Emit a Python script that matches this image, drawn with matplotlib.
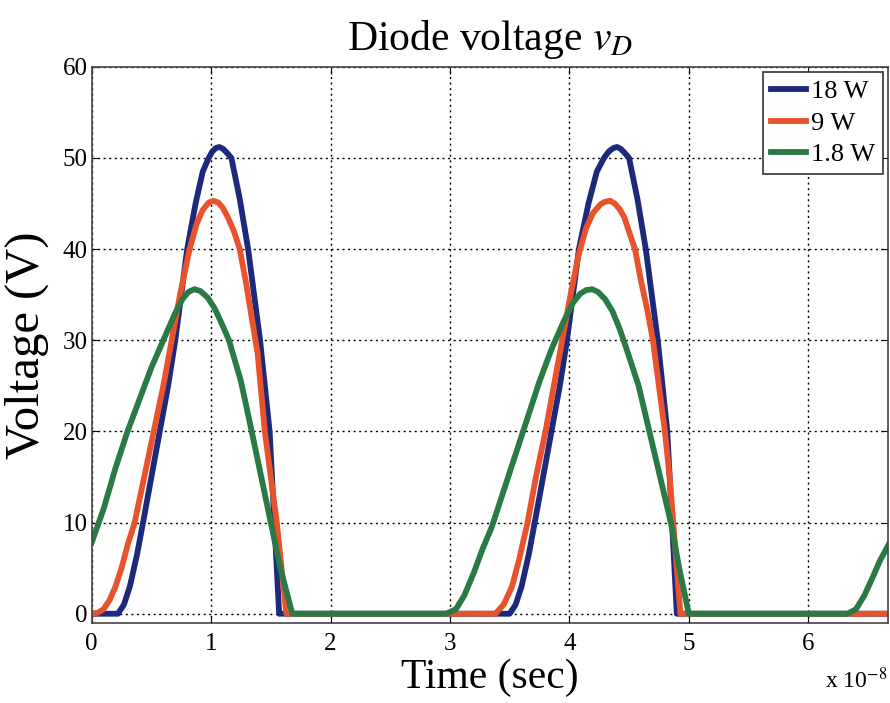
import matplotlib
matplotlib.use("Agg")
import matplotlib.pyplot as plt

plt.rcParams['font.family'] = 'Liberation Serif'
plt.rcParams['mathtext.fontset'] = 'stix'

# time in units of 1e-8 s, voltage in V
t_18 = [0, 0.22, 0.27, 0.32, 0.38, 0.43, 0.50, 0.57, 0.64, 0.70, 0.75, 0.80, 0.87, 0.93, 0.98,
        1.01, 1.04, 1.07, 1.10, 1.13, 1.17, 1.24, 1.31, 1.36, 1.41, 1.45, 1.49, 1.53, 1.57,
        3.50, 3.55, 3.60, 3.66, 3.71, 3.78, 3.85, 3.92, 3.98, 4.03, 4.08, 4.16, 4.23, 4.29,
        4.33, 4.37, 4.40, 4.43, 4.46, 4.50, 4.57, 4.64, 4.69, 4.74, 4.78, 4.82, 4.86, 4.90, 6.67]
v_18 = [0, 0, 1, 3, 6.5, 10, 15, 20, 25, 30, 35, 40, 45, 48.5, 50,
        50.7, 51.1, 51.2, 51, 50.6, 50, 45.5, 40, 35, 30, 25, 20, 10, 0,
        0, 1, 3, 6.5, 10, 15, 20, 25, 30, 35, 40, 45, 48.5, 50,
        50.7, 51.1, 51.2, 51, 50.6, 50, 45.5, 40, 35, 30, 25, 20, 10, 0, 0]

t_9 = [0, 0.05, 0.10, 0.15, 0.20, 0.25, 0.30, 0.36, 0.44, 0.52, 0.60, 0.67, 0.74, 0.82,
       0.88, 0.93, 0.98, 1.02, 1.06, 1.10, 1.14, 1.19, 1.24, 1.29, 1.34, 1.39, 1.45, 1.50,
       1.55, 1.59, 1.63,
       3.38, 3.45, 3.52, 3.58, 3.65, 3.72, 3.80, 3.87, 3.94, 4.01, 4.08, 4.14, 4.20, 4.26,
       4.30, 4.34, 4.38, 4.42, 4.46, 4.51, 4.55, 4.60, 4.65, 4.70, 4.75, 4.80, 4.84, 4.87,
       4.90, 4.93, 6.67]
v_9 = [0, 0.1, 0.5, 1.5, 3, 5, 7.5, 10, 15, 20, 25, 30, 35, 40,
       42.8, 44.3, 45.1, 45.3, 45.1, 44.5, 43.5, 42, 40, 36.5, 32.5, 28.5, 20, 15,
       10, 5, 0,
       0, 1, 3, 6, 10, 15, 20, 25, 30, 35, 39.5, 42.3, 44, 44.9,
       45.2, 45.3, 45, 44.4, 43.5, 41.5, 40, 36.5, 33.5, 30, 25, 20, 15, 10,
       5, 0, 0]

t_1p8 = [0, 0.10, 0.20, 0.30, 0.40, 0.50, 0.60, 0.70, 0.76, 0.81, 0.86, 0.91, 0.97, 1.03,
         1.09, 1.15, 1.25, 1.34, 1.42, 1.50, 1.58, 1.68,
         2.97, 3.05, 3.12, 3.20, 3.27, 3.35, 3.45, 3.55, 3.65, 3.75, 3.85, 3.95, 4.03, 4.09,
         4.14, 4.19, 4.24, 4.30, 4.36, 4.42, 4.48, 4.58, 4.67, 4.76, 4.85, 4.92, 5.00,
         6.33, 6.40, 6.47, 6.54, 6.60, 6.67]
v_1p8 = [7.8, 11.5, 16, 20, 23.5, 27, 30, 33, 34.5, 35.3, 35.6, 35.4, 34.7, 33.5,
         31.8, 30, 25.5, 20, 15, 10, 5, 0,
         0, 0.5, 2, 4.5, 7, 9.5, 13.5, 17.5, 21.5, 25.5, 29, 32, 34.1, 35.1,
         35.5, 35.6, 35.3, 34.5, 33.2, 31.3, 29, 25, 20, 15, 10, 5, 0,
         0, 0.5, 2, 4, 5.8, 7.5]

labels = ['18 W', '9 W', '1.8 W']
colors = ['#1d2a7c', '#e8532e', '#2b7a45']

fig = plt.figure(figsize=(8.9, 7.03), dpi=100)
ax = fig.add_axes([0.103, 0.114, 0.895, 0.791])

for t, v, lab, c in zip([t_18, t_9, t_1p8], [v_18, v_9, v_1p8], labels, colors):
    ax.plot(t, v, color=c, lw=4.2, label=lab, solid_joinstyle='round')

ax.set_xlim(0, 6.67)
ax.set_ylim(-1, 60)
ax.set_xticks(range(0, 7))
ax.set_yticks(range(0, 61, 10))
ax.tick_params(direction='in', top=True, right=True, labelsize=18, length=5)
ax.tick_params(axis='x', pad=7)
ax.tick_params(axis='y', pad=3)
ax.grid(True, color='black', linestyle=(0, (1.5, 2.5)), linewidth=1)
for s in ax.spines.values():
    s.set_color('#444444')
    s.set_linewidth(1.2)

ax.set_title('Diode voltage $v_D$', fontsize=30, pad=12)
ax.set_xlabel('Time (sec)', fontsize=30)
ax.xaxis.set_label_coords(0.5, -0.064)
ax.set_ylabel('Voltage (V)', fontsize=35)
ax.yaxis.set_label_coords(-0.053, 0.5)
fig.text(0.927, 0.021, r'x 10$^{-8}$', fontsize=17, ha='left', va='baseline')

leg = ax.legend(loc='upper right', fontsize=19, handlelength=1.3, handletextpad=0.2,
                borderpad=0.3, labelspacing=0.3, fancybox=False, framealpha=1,
                borderaxespad=0.2)
leg.get_frame().set_edgecolor('#333333')
leg.get_frame().set_linewidth(1.2)

fig.savefig('out.png', dpi=100)
